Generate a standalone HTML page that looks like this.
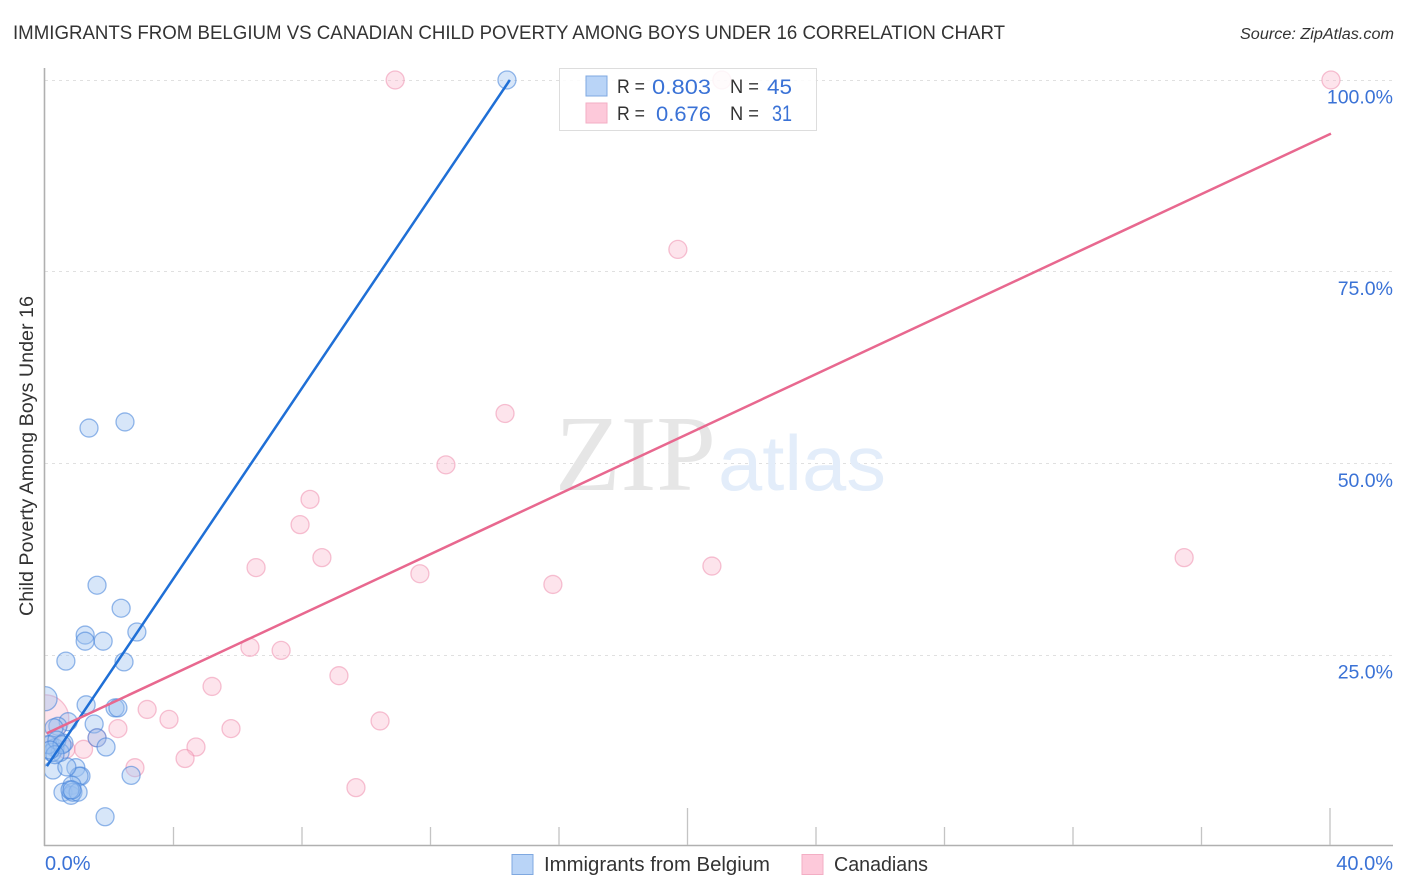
<!DOCTYPE html>
<html lang="en">
<head>
<meta charset="utf-8">
<title>Immigrants from Belgium vs Canadian Child Poverty Among Boys Under 16 Correlation Chart</title>
<style>
html,body{margin:0;padding:0;background:#fff;}
svg{display:block;font-family:"Liberation Sans",sans-serif;}
</style>
</head>
<body>
<svg id="chart" width="1406" height="892" viewBox="0 0 1406 892" xmlns="http://www.w3.org/2000/svg">
  <defs><clipPath id="plot-clip"><rect x="45" y="50" width="1361" height="796"/></clipPath></defs>
  <text x="13" y="39" font-size="19.5" fill="#333" textLength="992" lengthAdjust="spacingAndGlyphs">IMMIGRANTS FROM BELGIUM VS CANADIAN CHILD POVERTY AMONG BOYS UNDER 16 CORRELATION CHART</text>
  <text x="1394" y="39" font-size="15.5" font-style="italic" fill="#333" text-anchor="end" textLength="154" lengthAdjust="spacingAndGlyphs">Source: ZipAtlas.com</text>
  <g id="grid"></g>
  <g>
    <text x="555" y="490" font-family="'Liberation Serif',serif" font-size="108" fill="#e6e6e6" textLength="161" lengthAdjust="spacingAndGlyphs">ZIP</text>
    <text x="718" y="490" font-size="78" fill="#e3edfa" textLength="168" lengthAdjust="spacingAndGlyphs">atlas</text>
  </g>
  <g id="axes"></g>
  <g id="points" clip-path="url(#plot-clip)"></g>
  <g id="trends"></g>
  <g id="labels"></g>
  <text transform="translate(33,616) rotate(-90)" font-size="19" fill="#333" textLength="320" lengthAdjust="spacingAndGlyphs">Child Poverty Among Boys Under 16</text>

  <g>
    <rect x="559.5" y="68.5" width="257" height="62" fill="#fff" fill-opacity="0.85" stroke="#ddd" stroke-width="1"/>
    <rect x="586" y="76" width="21" height="20" fill="#b9d4f7" stroke="#7fa8e0" stroke-width="1"/>
    <rect x="586" y="103" width="21" height="20" fill="#fdc9da" stroke="#f3aec4" stroke-width="1"/>
    <text x="617" y="93" font-size="19" fill="#333" textLength="28" lengthAdjust="spacingAndGlyphs">R =</text>
    <text x="652" y="94" font-size="21" fill="#3a72d6" textLength="59" lengthAdjust="spacingAndGlyphs">0.803</text>
    <text x="730" y="93" font-size="19" fill="#333" textLength="29" lengthAdjust="spacingAndGlyphs">N =</text>
    <text x="767" y="94" font-size="21" fill="#3a72d6" textLength="25" lengthAdjust="spacingAndGlyphs">45</text>
    <text x="617" y="120" font-size="19" fill="#333" textLength="28" lengthAdjust="spacingAndGlyphs">R =</text>
    <text x="656" y="121" font-size="21" fill="#3a72d6" textLength="55" lengthAdjust="spacingAndGlyphs">0.676</text>
    <text x="730" y="120" font-size="19" fill="#333" textLength="29" lengthAdjust="spacingAndGlyphs">N =</text>
    <text x="772" y="121" font-size="22" fill="#3a72d6" textLength="20" lengthAdjust="spacingAndGlyphs">31</text>
  </g>

  <g>
    <rect x="512" y="854.5" width="21" height="20" fill="#b9d4f7" stroke="#7fa8e0" stroke-width="1"/>
    <text x="544" y="871" font-size="20" fill="#333" textLength="226" lengthAdjust="spacingAndGlyphs">Immigrants from Belgium</text>
    <rect x="802" y="854.5" width="21" height="20" fill="#fdc9da" stroke="#f3aec4" stroke-width="1"/>
    <text x="834" y="871" font-size="20" fill="#333" textLength="94" lengthAdjust="spacingAndGlyphs">Canadians</text>
  </g>
</svg>
<script>
const belgiumX = [14.38,2.49,1.37,1.62,2.37,2.86,1.25,1.25,1.81,0.65,2.46,0,1.28,2.18,2.27,1.53,0.72,0.40,0.28,1.62,1.90,0.59,2.68,0.25,0.96,1.12,1.06,0.84,0.56,0.81,0.87,1.03,1.87,0.68,0.16,0.31,0.47,0.22,0.09,0.37,0.53,0.31,0.16,0.78,0.84];
const belgiumY = [100,55.4,54.6,34.1,31.1,28.0,27.6,26.8,26.8,24.2,24.1,19.3,18.5,18.1,18.1,16.0,16.3,15.7,15.5,14.2,13.0,13.5,9.3,10.0,10.3,9.2,9.2,8.0,7.1,6.7,7.1,7.1,3.9,10.4,13.3,12.9,12.3,12.3,13.3,13.9,13.3,12.0,12.6,7.4,7.4];
const belgiumWeight = [1,1,1,1,1,1,1,1,1,1,1,1.8,1,1,1,1,1,1,1,1,1,1,1,1,1,1,1,1,1,1,1,1,1,1,1,1,1,1,1,1,1,1,1,1,1];
const canadiansX = [10.9,21.07,40.03,19.7,14.32,12.48,8.25,7.94,8.62,6.57,11.67,15.81,20.76,35.46,6.38,7.35,9.15,5.2,3.18,3.86,5.79,10.43,2.27,4.7,4.36,2.8,9.68,1.2,1.62,0.65,0];
const canadiansY = [100,100,100,77.9,56.5,49.8,45.3,42,37.7,36.4,35.6,34.2,36.6,37.7,26,25.6,22.3,20.9,17.9,16.6,15.4,16.4,15.4,13,11.5,10.3,7.7,12.7,14.2,12.7,16.7];
const canadiansWeight = [1,1,1,1,1,1,1,1,1,1,1,1,1,1,1,1,1,1,1,1,1,1,1,1,1,1,1,1,1,1,7];
const belgiumTrendX = [0.06,14.47];
const belgiumTrendY = [10.5,100];
const canadiansTrendX = [0.06,40.03];
const canadiansTrendY = [14.8,93.0];
const yTicks = [25,50,75,100];
const yTickLabels = ["25.0%","50.0%","75.0%","100.0%"];
const xTicks = [4,8,12,16,20,24,28,32,36,40];
const xMajorTicks = [20,40];
const xEndTicks = [0,40];
const xEndLabels = ["0.0%","40.0%"];

const NS = "http://www.w3.org/2000/svg";
function sx(v){ return 45 + v * 32.125; }
function sy(v){ return 846.67 - v * 7.667; }
function make(tag, parent, attrs){
  const el = document.createElementNS(NS, tag);
  for (const k in attrs) el.setAttribute(k, attrs[k]);
  parent.appendChild(el);
  return el;
}
const grid = document.getElementById('grid');
const axes = document.getElementById('axes');
const points = document.getElementById('points');
const trends = document.getElementById('trends');
const labels = document.getElementById('labels');

yTicks.forEach(function(t){
  const y = Math.round(sy(t) - 0.3) + 0.5;
  const line = make('line', grid, {x1:45, x2:1393, y1:y, y2:y, stroke:'#e0e0e0', 'stroke-width':1, 'stroke-dasharray':'3 4'});
  
  
});

const yAxis = make('line', axes, {x1:44.5, x2:44.5, y1:68, y2:846, stroke:'#b0b0b0', 'stroke-width':1.6});


const xAxis = make('line', axes, {x1:44, x2:1393, y1:845.5, y2:845.5, stroke:'#b0b0b0', 'stroke-width':1.4});


xTicks.forEach(function(t){
  const top = xMajorTicks.indexOf(t) >= 0 ? 808 : 827;
  const tick = make('line', axes, {x1:sx(t), x2:sx(t), y1:top, y2:845, stroke:'#c4c4c4', 'stroke-width':1.3});
  
  
});

function drawSeries(xs, ys, ws, fill, stroke, name){
  xs.forEach(function(x, i){
    const c = make('circle', points, {cx:sx(x), cy:sy(ys[i]), r:9 * Math.sqrt(ws[i]), fill:fill, 'fill-opacity':0.4, stroke:stroke, 'stroke-opacity':0.55, 'stroke-width':1.3});
    
    
  });
}
drawSeries(canadiansX, canadiansY, canadiansWeight, '#fbbbd0', '#ee8fae', 'canadians');
drawSeries(belgiumX, belgiumY, belgiumWeight, '#9cc0f0', '#3f7fd8', 'belgium');

const blueLine = make('line', trends, {x1:sx(belgiumTrendX[0]), y1:sy(belgiumTrendY[0]), x2:sx(belgiumTrendX[1]), y2:sy(belgiumTrendY[1]), stroke:'#1f6fd6', 'stroke-width':2.5});


const pinkLine = make('line', trends, {x1:sx(canadiansTrendX[0]), y1:sy(canadiansTrendY[0]), x2:sx(canadiansTrendX[1]), y2:sy(canadiansTrendY[1]), stroke:'#e8688f', 'stroke-width':2.5});



yTicks.forEach(function(t, i){
  const label = make('text', labels, {x:1393, y:sy(t) + 23.5, 'font-size':19.5, fill:'#3a72d6', 'text-anchor':'end'});
  label.textContent = yTickLabels[i];
  
  
});
xEndTicks.forEach(function(t, i){
  const label = make('text', labels, {x: i === 0 ? 45 : 1393, y:870, 'font-size':20, fill:'#3a72d6', 'text-anchor': i === 0 ? 'start' : 'end'});
  label.textContent = xEndLabels[i];
  
  
});
</script>
</body>
</html>
